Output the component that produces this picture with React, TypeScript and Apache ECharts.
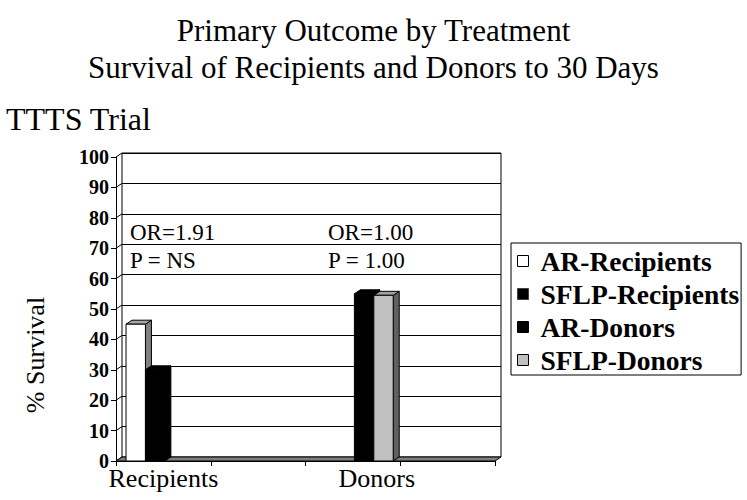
import React, { useEffect, useRef } from "react";
import * as echarts from "echarts";

const categories = ["Recipients", "", "Donors", ""];
const seriesNames = ["AR-Recipients", "SFLP-Recipients", "AR-Donors", "SFLP-Donors"];
const arRecipients = [45, null, null, null];
const sflpRecipients = [30, null, null, null];
const arDonors = [null, null, 55, null];
const sflpDonors = [null, null, 54.5, null];
const yTicks = [0, 10, 20, 30, 40, 50, 60, 70, 80, 90, 100];
const annotations = [
  { text: "OR=1.91", x: 130, y: 232 },
  { text: "P = NS", x: 130, y: 260 },
  { text: "OR=1.00", x: 328, y: 232 },
  { text: "P = 1.00", x: 328, y: 260 },
];

const SERIF = "Liberation Serif";
const DX = 6;
const DY = -4;

const barStyles = [
  { front: "#ffffff", side: "#808080", top: "#a8a8a8", legendBorder: "#000" },
  { front: "#000000", side: "#000000", top: "#000000", legendBorder: "#404040" },
  { front: "#000000", side: "#000000", top: "#000000", legendBorder: "#000" },
  { front: "#c0c0c0", side: "#606060", top: "#a0a0a0", legendBorder: "#000" },
];

function makeBarRender(si: number) {
  const st = barStyles[si];
  return (params: any, api: any) => {
    const cat = api.value(0);
    const val = api.value(1);
    if (val == null || isNaN(val)) return null;
    const topPt = api.coord([cat, val]);
    const basePt = api.coord([cat, 0]);
    const catW = api.size([1, 0])[0];
    const slot = catW * 0.205;
    const x = topPt[0] - slot * 2 + si * slot + 1.5;
    const w = slot;
    const t = topPt[1];
    const b = basePt[1];
    const lw = 1;
    return {
      type: "group",
      children: [
        {
          type: "polygon",
          shape: { points: [[x + w, t], [x + w + DX, t + DY], [x + w + DX, b + DY], [x + w, b]] },
          style: { fill: st.side, stroke: "#000", lineWidth: lw },
        },
        {
          type: "polygon",
          shape: { points: [[x, t], [x + DX, t + DY], [x + w + DX, t + DY], [x + w, t]] },
          style: { fill: st.top, stroke: "#000", lineWidth: lw },
        },
        {
          type: "rect",
          shape: { x, y: t, width: w, height: b - t },
          style: { fill: st.front, stroke: "#000", lineWidth: lw },
        },
      ],
    };
  };
}

const seriesData = [arRecipients, sflpRecipients, arDonors, sflpDonors];

export default function App() {
  const ref = useRef<HTMLDivElement>(null);
  useEffect(() => {
    if (!ref.current) return;
    const chart = echarts.init(ref.current, null, { renderer: "svg" });

    const barSeries = seriesData.map((arr, si) => ({
      type: "custom",
      name: seriesNames[si],
      xAxisIndex: 0,
      yAxisIndex: 0,
      z: 5 + si,
      itemStyle: { color: barStyles[si].front, borderColor: "#000" },
      encode: { x: 0, y: 1 },
      data: arr.map((v, i) => [i, v]).filter((d) => d[1] != null),
      renderItem: makeBarRender(si),
    }));

    const option: any = {
      animation: false,
      backgroundColor: "#ffffff",
      title: {
        text: "Primary Outcome by Treatment\nSurvival of Recipients and Donors to 30 Days",
        left: "center",
        top: 7,
        textStyle: {
          fontFamily: SERIF,
          fontSize: 31,
          fontWeight: "normal",
          color: "#000",
          lineHeight: 37,
        },
      },
      legend: {
        orient: "vertical",
        left: 511,
        top: 243,
        borderColor: "#000",
        borderWidth: 1,
        padding: [3, 2, 0, 6],
        itemGap: 3,
        itemWidth: 11,
        itemHeight: 11,
        icon: "rect",
        selectedMode: false,
        textStyle: {
          fontFamily: SERIF,
          fontSize: 27.5,
          fontWeight: "bold",
          color: "#000",
          lineHeight: 30,
          padding: [0, 0, 0, 7],
        },
        data: seriesNames.map((n, i) => ({
          name: n,
          itemStyle: { color: barStyles[i].front, borderColor: barStyles[i].legendBorder, borderWidth: 1 },
        })),
      },
      grid: [
        { left: 116, right: 252, top: 157, bottom: 39, containLabel: false },
        {
          left: 122,
          right: 246,
          top: 153,
          bottom: 43,
          show: true,
          borderColor: "#000",
          borderWidth: 1,
          backgroundColor: "transparent",
        },
      ],
      xAxis: [
        {
          type: "category",
          gridIndex: 0,
          data: categories,
          boundaryGap: true,
          axisLine: { show: true, lineStyle: { color: "#000", width: 1 } },
          axisTick: { show: true, interval: 0, length: 5, lineStyle: { color: "#000" } },
          axisLabel: {
            interval: 0,
            margin: 4,
            color: "#000",
            fontFamily: SERIF,
            fontSize: 26,
            formatter: (v: string) => (v === "Donors" ? "{d|" + v + "}" : v),
            rich: { d: { padding: [0, 0, 0, 48], fontFamily: SERIF, fontSize: 26, color: "#000" } },
          },
          splitLine: { show: false },
          z: 10,
        },
        { type: "value", gridIndex: 1, min: 0, max: 1, show: false },
      ],
      yAxis: [
        {
          type: "value",
          gridIndex: 0,
          min: 0,
          max: 100,
          interval: 10,
          axisLine: { show: true, lineStyle: { color: "#000", width: 1 } },
          axisTick: { show: true, length: 5, lineStyle: { color: "#000" } },
          axisLabel: {
            color: "#000",
            fontFamily: SERIF,
            fontSize: 20,
            fontWeight: "bold",
            margin: 7,
          },
          splitLine: { show: false },
          z: 10,
        },
        {
          type: "value",
          gridIndex: 1,
          min: 0,
          max: 100,
          interval: 10,
          axisLine: { show: false },
          axisTick: { show: false },
          axisLabel: { show: false },
          splitLine: { show: true, lineStyle: { color: "#000", width: 1 } },
        },
      ],
      graphic: [
        {
          type: "text",
          left: 6,
          top: 103,
          style: { text: "TTTS Trial", fontFamily: SERIF, fontSize: 32, fill: "#000" },
        },
        {
          type: "text",
          x: 35,
          y: 355,
          rotation: Math.PI / 2,
          style: {
            text: "% Survival",
            fontFamily: SERIF,
            fontSize: 26,
            fill: "#000",
            align: "center",
            verticalAlign: "middle",
          },
        },
        ...annotations.map((a) => ({
          type: "text",
          x: a.x,
          y: a.y,
          z: 20,
          style: {
            text: a.text,
            fontFamily: SERIF,
            fontSize: 23,
            fill: "#000",
            align: "left",
            verticalAlign: "middle",
          },
        })),
      ],
      series: [
        {
          type: "custom",
          name: "floor",
          xAxisIndex: 0,
          yAxisIndex: 0,
          z: 3,
          silent: true,
          data: [[0, 0]],
          renderItem: (params: any) => {
            const cs = params.coordSys;
            const x0 = cs.x;
            const x1 = cs.x + cs.width;
            const yb = cs.y + cs.height;
            return {
              type: "polygon",
              shape: { points: [[x0, yb], [x1, yb], [x1 + DX, yb + DY], [x0 + DX, yb + DY]] },
              style: { fill: "#808080", stroke: "#000", lineWidth: 1 },
            };
          },
        },
        {
          type: "custom",
          name: "wall",
          xAxisIndex: 0,
          yAxisIndex: 0,
          z: 2,
          silent: true,
          data: yTicks.map((v) => [0, v]),
          encode: { x: 0, y: 1 },
          renderItem: (params: any, api: any) => {
            const cs = params.coordSys;
            const y = api.coord([0, api.value(1)])[1];
            return {
              type: "line",
              shape: { x1: cs.x, y1: y, x2: cs.x + DX, y2: y + DY },
              style: { stroke: "#000", lineWidth: 1 },
            };
          },
        },
        ...barSeries,
      ],
    };
    chart.setOption(option);
    return () => chart.dispose();
  }, []);
  return <div ref={ref} style={{ position: "absolute", left: 0, top: 0, width: 747, height: 500 }} />;
}
